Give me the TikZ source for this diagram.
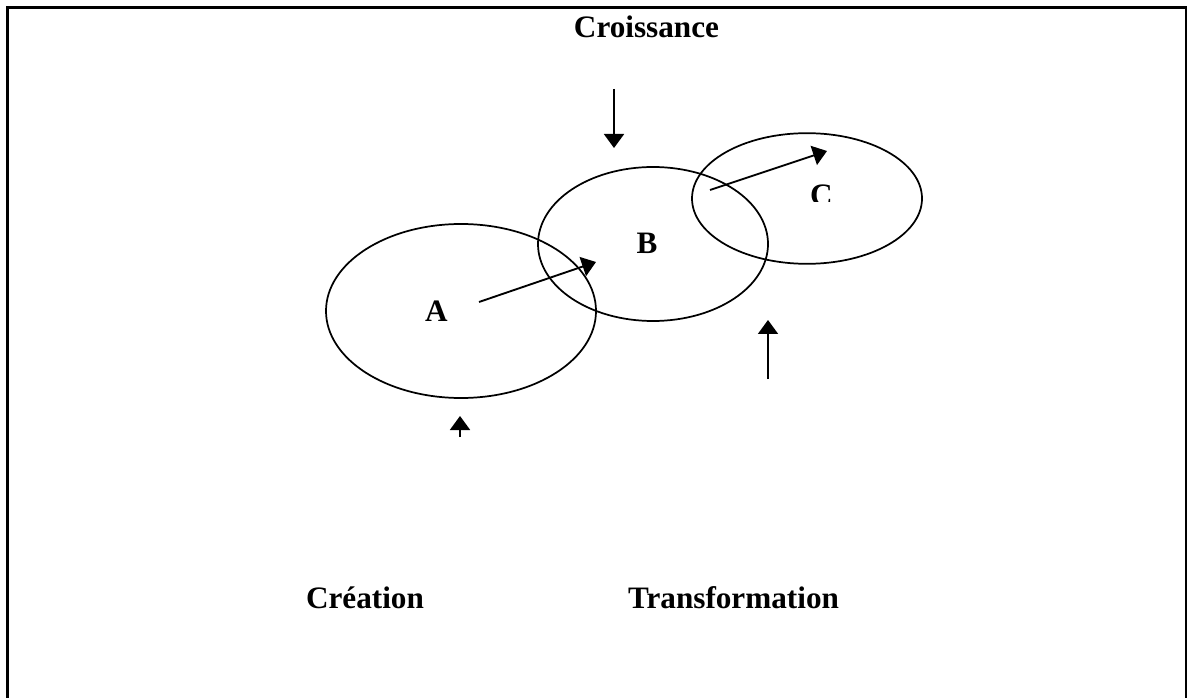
\documentclass[tikz,border=0pt]{standalone}
\usepackage{fontspec}
\setmainfont{Liberation Serif}
\usetikzlibrary{shapes.geometric,arrows.meta}
\begin{document}
\begin{tikzpicture}[x=0.75pt,y=-0.75pt,
  lbl/.style={font=\fontsize{23.4pt}{28pt}\selectfont\bfseries, anchor=base, inner sep=0pt},
  blob/.style={draw, line width=1.3pt, ellipse, inner sep=0pt},
  arr/.style={line width=1.4pt, -{Triangle[width=15pt,length=10.5pt]}}]
\useasboundingbox (0,0) rectangle (1188,698);
% frame
\draw[line width=1.6pt] (7.5,698) -- (7.5,7.5) -- (1186,7.5) -- (1186,698);
% ellipses
\node[blob, minimum width=202.5pt, minimum height=130.5pt] (EA) at (461,311) {};
\node[blob, minimum width=172.5pt, minimum height=115.5pt] (EB) at (653,244) {};
\node[blob, minimum width=172.5pt, minimum height=98pt] (EC) at (807,198.5) {};
% letters
\node[lbl] (A) at (436.5,322) {A};
\node[lbl] (B) at (647,254) {B};
\begin{scope}
\clip (790,170) rectangle (850,202);
\node[lbl] (C) at (821.5,206) {C};
\end{scope}
% labels
\node[lbl] (cro) at (646.5,38) {Croissance};
\node[lbl] (cre) at (365,608) {Création};
\node[lbl] (tra) at (733.5,608) {Transformation};
% arrow endpoints
\coordinate (a1) at (479,302);
\coordinate (a2) at (596,262);
\coordinate (c1) at (710,190);
\coordinate (c2) at (827,151);
\coordinate (d1) at (614,89);
\coordinate (d2) at (614,148);
\coordinate (u1) at (460,437);
\coordinate (u2) at (460,416);
\coordinate (v1) at (768,379);
\coordinate (v2) at (768,320);
\draw[arr] (a1) -- (a2);
\draw[arr] (c1) -- (c2);
\draw[arr] (d1) -- (d2);
\draw[arr] (u1) -- (u2);
\draw[arr] (v1) -- (v2);
\end{tikzpicture}
\end{document}
